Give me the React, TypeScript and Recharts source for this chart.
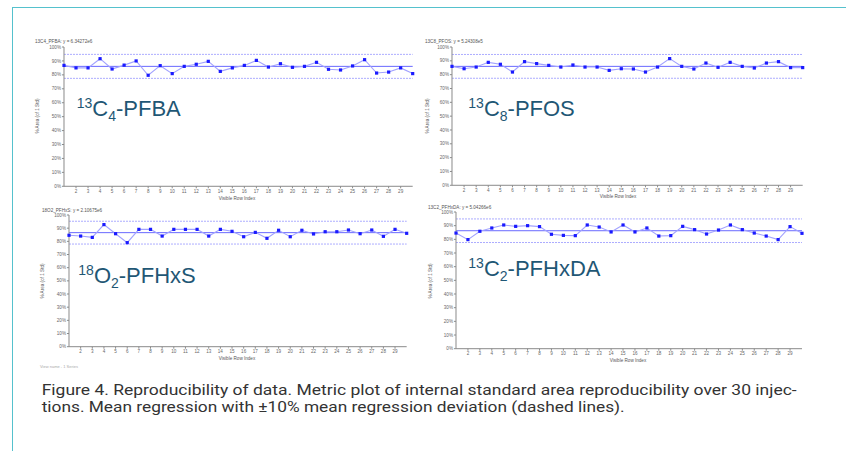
import { Line, LineChart, ReferenceLine, XAxis, YAxis } from "recharts";

// injection number along the x axis
const rowIndex = [
  1, 2, 3, 4, 5, 6, 7, 8, 9, 10, 11, 12, 13, 14, 15, 16, 17, 18, 19, 20, 21,
  22, 23, 24, 25, 26, 27, 28, 29, 30,
];

// % area of the first injection
const pfbaArea = [
  86.8, 85, 85, 91.6, 84.2, 87, 90, 79.7, 86.6, 80.9, 86.1, 87.6, 89.7, 82.5,
  85, 86.8, 90.4, 85.6, 88, 85.4, 86.1, 89, 84, 83.5, 86.4, 90.9, 81.3, 82, 85,
  80.9,
];
const pfosArea = [
  86, 84.3, 85.5, 88.9, 87.5, 81.9, 89.4, 88, 86.7, 85.5, 87, 85.5, 85.5, 83.1,
  84.3, 84.1, 81.9, 85.5, 91.6, 86, 84.1, 88.4, 85.3, 88.9, 86, 84.8, 88.4,
  89.4, 85.1, 85.1,
];
const pfhxsArea = [
  84.6, 84, 83, 92.7, 85.8, 79, 89.1, 89.1, 84, 89.1, 89.1, 89.1, 84, 89.1,
  87.6, 83.5, 86.8, 82.3, 88.4, 83.5, 88.4, 85.6, 87.3, 87.3, 88.6, 85.8, 88.6,
  83.8, 89.1, 86.1,
];
const pfhxdaArea = [
  84.6, 79.8, 85.9, 88.3, 90.5, 89.5, 90, 89.3, 83.7, 82.9, 82.7, 90.5, 89,
  85.4, 90.5, 85.4, 88.3, 82.4, 82.7, 89.5, 87.1, 83.9, 86.8, 90.5, 87.1, 84.6,
  82.4, 79.8, 89.3, 84.4,
];

// mean regression lines
const pfbaMean = 86.1;
const pfosMean = 86;
const pfhxsMean = 86.6;
const pfhxdaMean = 86.3;

const xTicks = [
  2, 3, 4, 5, 6, 7, 8, 9, 10, 11, 12, 13, 14, 15, 16, 17, 18, 19, 20, 21, 22,
  23, 24, 25, 26, 27, 28, 29,
];
const yTicks = [0, 10, 20, 30, 40, 50, 60, 70, 80, 90, 100];

const captionLines = [
  "Figure 4. Reproducibility of data. Metric plot of internal standard area reproducibility over 30 injec-",
  "tions. Mean regression with ±10% mean regression deviation (dashed lines).",
];

const labelColor = "#1f5775";
const axisColor = "#8a8a8a";
const smallFont = "Liberation Sans, Arial, sans-serif";
const tickStyle = { fontSize: 4.6, fill: "#666", fontFamily: smallFont };

const renderSquare = (props: any) => {
  const { cx, cy, index } = props;
  if (cx == null || cy == null) return <g key={`sq-${index}`} />;
  return (
    <rect
      key={`sq-${index}`}
      x={cx - 1.6}
      y={cy - 1.6}
      width={3.2}
      height={3.2}
      fill="#1a1aff"
    />
  );
};

interface Box {
  x0: number;
  y0: number;
  x1: number;
  y1: number;
}

interface PanelProps {
  values: number[];
  mean: number;
  box: Box;
}

const Panel = ({ values, mean, box }: PanelProps) => {
  const data = rowIndex.map((row, i) => ({ row, area: values[i] }));
  const padL = 45;
  const padT = 10;
  const padR = 6;
  const padB = 20;
  const width = box.x1 - box.x0 + padL + padR;
  const height = box.y1 - box.y0 + padT + padB;
  return (
    <div style={{ position: "absolute", left: box.x0 - padL, top: box.y0 - padT }}>
      <LineChart
        width={width}
        height={height}
        data={data}
        margin={{ top: padT, right: padR, bottom: 0, left: 0 }}
      >
        <XAxis
          dataKey="row"
          type="number"
          domain={[1, 30]}
          ticks={xTicks}
          interval={0}
          height={padB}
          tick={tickStyle}
          tickSize={2}
          tickMargin={1}
          axisLine={{ stroke: axisColor }}
          tickLine={{ stroke: axisColor }}
        />
        <YAxis
          type="number"
          domain={[0, 100]}
          ticks={yTicks}
          interval={0}
          width={padL}
          tick={tickStyle}
          tickSize={2}
          tickMargin={1}
          tickFormatter={(v: number) => `${v}%`}
          axisLine={{ stroke: axisColor }}
          tickLine={{ stroke: axisColor }}
        />
        <ReferenceLine y={mean * 1.1} stroke="#acacff" strokeDasharray="2 1" />
        <ReferenceLine y={mean} stroke="#6868ff" strokeWidth={1} />
        <ReferenceLine y={mean * 0.9} stroke="#acacff" strokeDasharray="2 1" />
        <Line
          dataKey="area"
          stroke="#a2a2ff"
          strokeWidth={1.1}
          dot={renderSquare}
          isAnimationActive={false}
        />
      </LineChart>
    </div>
  );
};

const BigLabel = ({ x, y, sup, base, sub, rest }: any) => (
  <text x={x} y={y} fill={labelColor} fontFamily={smallFont} fontSize={22}>
    <tspan fontSize={14} dy={-8}>{sup}</tspan>
    <tspan dy={8}>{base}</tspan>
    <tspan fontSize={14} dy={5}>{sub}</tspan>
    <tspan dy={-5}>{rest}</tspan>
  </text>
);

const App = () => {
  return (
    <div style={{ position: "absolute", left: 0, top: 0, width: 846, height: 451, background: "#fff", overflow: "hidden" }}>
      <div
        style={{
          position: "absolute",
          left: 12,
          top: 7,
          width: 900,
          height: 500,
          borderLeft: "1.5px solid #55c1cd",
          borderTop: "1.5px solid #55c1cd",
        }}
      />
      <Panel values={pfbaArea} mean={pfbaMean} box={{ x0: 64.3, y0: 46.7, x1: 413, y1: 186 }} />
      <Panel values={pfosArea} mean={pfosMean} box={{ x0: 452.3, y0: 46.7, x1: 803, y1: 185 }} />
      <Panel values={pfhxsArea} mean={pfhxsMean} box={{ x0: 69, y0: 215, x1: 406.7, y1: 346.7 }} />
      <Panel values={pfhxdaArea} mean={pfhxdaMean} box={{ x0: 455.7, y0: 212.3, x1: 801.7, y1: 349 }} />
      <svg
        width={846}
        height={451}
        style={{ position: "absolute", left: 0, top: 0, pointerEvents: "none" }}
      >
        <g fontFamily={smallFont} fontSize={4.6} fill="#555">
          <text x={35} y={42.5}>13C4_PFBA: y = 6.34272e6</text>
          <text x={425} y={42.5}>13C8_PFOS: y = 5.24308e5</text>
          <text x={42} y={211.5}>18O2_PFHxS: y = 2.10675e6</text>
          <text x={428} y={208.5}>13C2_PFHxDA: y = 5.04266e6</text>
          <text x={237} y={200} textAnchor="middle">Visible Row Index</text>
          <text x={618} y={197.5} textAnchor="middle">Visible Row Index</text>
          <text x={237} y={359.5} textAnchor="middle">Visible Row Index</text>
          <text x={628} y={361.5} textAnchor="middle">Visible Row Index</text>
          <text transform="translate(38.5,116) rotate(-90)" textAnchor="middle">% Area (of 1 Std)</text>
          <text transform="translate(428.5,116) rotate(-90)" textAnchor="middle">% Area (of 1 Std)</text>
          <text transform="translate(44,281) rotate(-90)" textAnchor="middle">% Area (of 1 Std)</text>
          <text transform="translate(431.5,281) rotate(-90)" textAnchor="middle">% Area (of 1 Std)</text>
          <text x={40} y={367.5} fill="#aaa" fontSize={4}>View name - 1 Series</text>
        </g>
        <BigLabel x={76.7} y={116} sup="13" base="C" sub="4" rest="-PFBA" />
        <BigLabel x={468.3} y={116} sup="13" base="C" sub="8" rest="-PFOS" />
        <BigLabel x={78.3} y={283.3} sup="18" base="O" sub="2" rest="-PFHxS" />
        <BigLabel x={468.3} y={275.7} sup="13" base="C" sub="2" rest="-PFHxDA" />
        <g fontFamily="Roboto, 'Noto Sans', sans-serif" fontSize={14} fill="#333">
          <text x={41.7} y={394.5} textLength={755} lengthAdjust="spacingAndGlyphs">
            {captionLines[0]}
          </text>
          <text x={41.7} y={411.5} textLength={583} lengthAdjust="spacingAndGlyphs">
            {captionLines[1]}
          </text>
        </g>
      </svg>
    </div>
  );
};

export default App;
